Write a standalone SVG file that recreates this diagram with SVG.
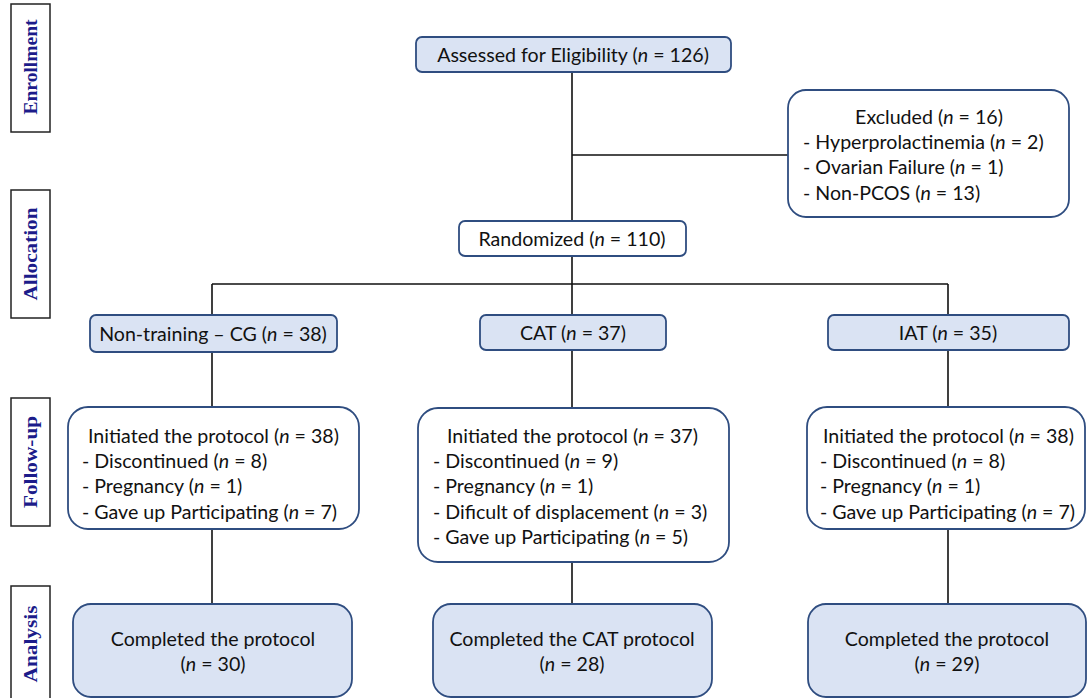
<svg xmlns="http://www.w3.org/2000/svg" width="1088" height="698" viewBox="0 0 1088 698">
<style>
.side{fill:#fff;stroke:#222;stroke-width:1.5}
.sidet{font-family:"Liberation Serif",serif;font-weight:bold;font-size:18px;fill:#1c1c8a;text-anchor:middle}
.blue{fill:#dae3f3;stroke:#2f4d80;stroke-width:1.8}
.white{fill:#fff;stroke:#2f4d80;stroke-width:1.8}
.t{font-family:Lato,"Liberation Sans",sans-serif;font-size:19.6px;fill:#111}
.c{text-anchor:middle}
.ln{stroke:#111;stroke-width:1.6;fill:none}
</style>
<g id="phases">
<rect class="side" x="11" y="4" width="39" height="128"/>
<text class="sidet" transform="translate(37,67) rotate(-90)" textLength="95" lengthAdjust="spacingAndGlyphs">Enrollment</text>
<rect class="side" x="11" y="190" width="39" height="128"/>
<text class="sidet" transform="translate(37,254) rotate(-90)" textLength="93" lengthAdjust="spacingAndGlyphs">Allocation</text>
<rect class="side" x="11" y="398" width="39" height="128"/>
<text class="sidet" transform="translate(37,462) rotate(-90)" textLength="92" lengthAdjust="spacingAndGlyphs">Follow-up</text>
<rect class="side" x="11" y="586" width="39" height="125"/>
<text class="sidet" transform="translate(37,644) rotate(-90)" textLength="77" lengthAdjust="spacingAndGlyphs">Analysis</text>
</g>
<g id="connectors">
<path class="ln" d="M572,72 V221 M572,155 H788 M572,256 V284 M212,284 H948 M212,284 V315 M572,284 V315 M948,284 V315 M212,352 V407 M572,350 V408 M948,350 V407 M212,529 V604 M572,562 V604 M948,529 V604"/>
</g>
<g id="assessed">
<rect class="blue" x="416" y="37" width="315" height="35" rx="6"/>
<text class="t c" x="573" y="62">Assessed for Eligibility (<tspan font-style="italic">n</tspan> = 126)</text>
</g>
<g id="excluded">
<rect class="white" x="788" y="90" width="281" height="127" rx="18"/>
<text class="t c" x="929" y="124">Excluded (<tspan font-style="italic">n</tspan> = 16)</text>
<text class="t" x="803" y="149">- Hyperprolactinemia (<tspan font-style="italic">n</tspan> = 2)</text>
<text class="t" x="803" y="174">- Ovarian Failure (<tspan font-style="italic">n</tspan> = 1)</text>
<text class="t" x="803" y="200">- Non-PCOS (<tspan font-style="italic">n</tspan> = 13)</text>
</g>
<g id="randomized">
<rect class="white" x="459" y="221" width="227" height="35" rx="6"/>
<text class="t c" x="572" y="246">Randomized (<tspan font-style="italic">n</tspan> = 110)</text>
</g>
<g id="cg">
<rect class="blue" x="90" y="315" width="247" height="37" rx="6"/>
<text class="t c" x="213" y="341">Non-training – CG (<tspan font-style="italic">n</tspan> = 38)</text>
</g>
<g id="cat">
<rect class="blue" x="480" y="315" width="186" height="35" rx="6"/>
<text class="t c" x="573" y="340">CAT (<tspan font-style="italic">n</tspan> = 37)</text>
</g>
<g id="iat">
<rect class="blue" x="828" y="315" width="241" height="35" rx="6"/>
<text class="t c" x="948" y="340">IAT (<tspan font-style="italic">n</tspan> = 35)</text>
</g>
<g id="fu-cg">
<rect class="white" x="68" y="407" width="291" height="122" rx="20"/>
<text class="t" x="88" y="443">Initiated the protocol (<tspan font-style="italic">n</tspan> = 38)</text>
<text class="t" x="82" y="468">- Discontinued (<tspan font-style="italic">n</tspan> = 8)</text>
<text class="t" x="82" y="493">- Pregnancy (<tspan font-style="italic">n</tspan> = 1)</text>
<text class="t" x="82" y="519">- Gave up Participating (<tspan font-style="italic">n</tspan> = 7)</text>
</g>
<g id="fu-cat">
<rect class="white" x="418" y="408" width="311" height="154" rx="20"/>
<text class="t" x="447" y="443">Initiated the protocol (<tspan font-style="italic">n</tspan> = 37)</text>
<text class="t" x="433" y="468">- Discontinued (<tspan font-style="italic">n</tspan> = 9)</text>
<text class="t" x="433" y="493">- Pregnancy (<tspan font-style="italic">n</tspan> = 1)</text>
<text class="t" x="433" y="519">- Dificult of displacement (<tspan font-style="italic">n</tspan> = 3)</text>
<text class="t" x="433" y="544">- Gave up Participating (<tspan font-style="italic">n</tspan> = 5)</text>
</g>
<g id="fu-iat">
<rect class="white" x="807" y="407" width="278" height="122" rx="20"/>
<text class="t" x="823" y="443">Initiated the protocol (<tspan font-style="italic">n</tspan> = 38)</text>
<text class="t" x="820" y="468">- Discontinued (<tspan font-style="italic">n</tspan> = 8)</text>
<text class="t" x="820" y="493">- Pregnancy (<tspan font-style="italic">n</tspan> = 1)</text>
<text class="t" x="820" y="519">- Gave up Participating (<tspan font-style="italic">n</tspan> = 7)</text>
</g>
<g id="an-cg">
<rect class="blue" x="73" y="604" width="279" height="93" rx="18"/>
<text class="t c" x="213" y="646">Completed the protocol</text>
<text class="t c" x="213" y="671">(<tspan font-style="italic">n</tspan> = 30)</text>
</g>
<g id="an-cat">
<rect class="blue" x="433" y="604" width="279" height="93" rx="18"/>
<text class="t c" x="572" y="646">Completed the CAT protocol</text>
<text class="t c" x="572" y="671">(<tspan font-style="italic">n</tspan> = 28)</text>
</g>
<g id="an-iat">
<rect class="blue" x="808" y="604" width="278" height="93" rx="18"/>
<text class="t c" x="947" y="646">Completed the protocol</text>
<text class="t c" x="947" y="671">(<tspan font-style="italic">n</tspan> = 29)</text>
</g>
</svg>
